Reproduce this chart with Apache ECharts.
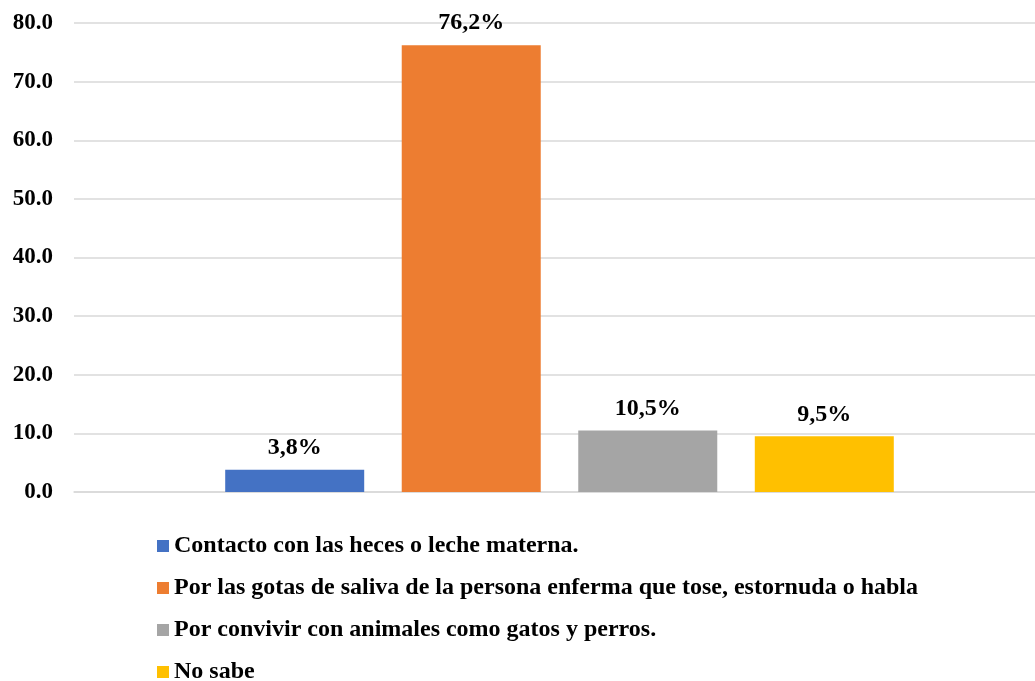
<!DOCTYPE html>
<html>
<head>
<meta charset="utf-8">
<script src="https://cdn.jsdelivr.net/npm/echarts@6/dist/echarts.min.js"></script>
<style>html,body{margin:0;padding:0;background:#fff;}#c{width:1035px;height:681px;}</style>
</head>
<body>
<div id="c"></div>
<script>
const categories = [''];
const seriesNames = [
  'Contacto con las heces o leche materna.',
  'Por las gotas de saliva de la persona enferma que tose, estornuda o habla',
  'Por convivir con animales como gatos y perros.',
  'No sabe'
];
const values = [3.8, 76.2, 10.5, 9.5];
const colors = ['#4472C4', '#ED7D31', '#A5A5A5', '#FFC000'];
const yMin = 0, yMax = 80, yInterval = 10;

const font = 'Liberation Serif';
const chart = echarts.init(document.getElementById('c'));
chart.setOption({
  animation: false,
  grid: { left: 74, width: 971, top: 23, bottom: 189, containLabel: false, outerBoundsMode: 'none' },
  legend: {
    orient: 'vertical',
    left: 157,
    top: 534,
    height: 200,
    padding: 0,
    itemWidth: 12,
    itemHeight: 12,
    itemGap: 18,
    icon: 'rect',
    textStyle: { fontFamily: font, fontWeight: 'bold', fontSize: 24, color: '#000' },
    data: seriesNames
  },
  xAxis: {
    type: 'category',
    data: categories,
    axisLine: { show: true, lineStyle: { color: '#d9d9d9', width: 1.5 } },
    axisTick: { show: false },
    axisLabel: { show: false }
  },
  yAxis: {
    type: 'value',
    min: yMin, max: yMax, interval: yInterval,
    axisLine: { show: false },
    axisTick: { show: false },
    splitLine: { lineStyle: { color: '#d9d9d9', width: 1.5 } },
    axisLabel: {
      margin: 21,
      fontFamily: font, fontWeight: 'bold', fontSize: 23, color: '#000',
      formatter: v => v.toFixed(1)
    }
  },
  series: seriesNames.map((n, i) => ({
    name: n,
    type: 'bar',
    data: [values[i]],
    barWidth: 139,
    barGap: '27%',
    itemStyle: { color: colors[i] },
    label: {
      show: true, position: 'top', distance: 10,
      fontFamily: font, fontWeight: 'bold', fontSize: 24, color: '#000',
      formatter: p => p.value.toFixed(1).replace('.', ',') + '%'
    }
  }))
});
</script>
</body>
</html>
